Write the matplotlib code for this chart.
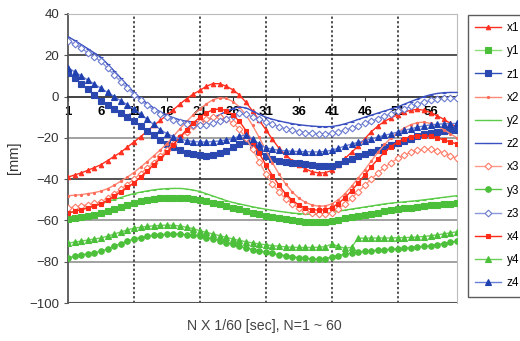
import matplotlib
matplotlib.use("Agg")
import matplotlib.pyplot as plt

plt.rcParams['font.family'] = ['Liberation Sans', 'DejaVu Sans']

# frame numbers N = 1..60
n = list(range(1, 61))

x1 = [-39, -38, -37, -35.7, -34.4, -33, -31, -29, -27, -24.5, -22, -19.5, -16.8, -14, -11.5,
      -9, -6.3, -3.6, -1, 1.2, 3, 5, 6.3, 6.2, 5, 3.3, 0.8, -2.8, -7, -11.5,
      -16, -20.7, -25, -28.3, -31, -33.2, -35, -36.4, -37, -36.9, -35.8, -33.3, -30, -27, -24,
      -20.5, -17, -14.3, -12, -10.3, -8.8, -7.5, -6.6, -6.2, -6.6, -7.8, -9.3, -11, -13, -15]
y1 = [-59.5, -59, -58.4, -57.8, -57.2, -56.5, -55.5, -54.5, -53.4, -52.4, -51.5, -50.8, -50.2, -49.7, -49.3,
      -49.1, -49, -49, -49.2, -49.5, -50, -50.7, -51.4, -52.2, -53, -53.8, -54.6, -55.4, -56.2, -57,
      -57.7, -58.3, -58.9, -59.5, -60, -60.4, -60.7, -60.9, -61, -60.8, -60.2, -59.6, -59, -58.5, -58,
      -57.4, -56.8, -56.2, -55.6, -55, -54.6, -54.2, -53.8, -53.4, -53, -52.7, -52.4, -52.1, -51.8, -51.5]
z1 = [11.5, 9, 6.3, 3.5, 0.8, -2, -4, -6, -8, -10, -12, -14.3, -16.6, -18.8, -21,
      -23, -24.6, -26, -27.2, -28, -28.5, -28.6, -28.2, -27.4, -26.2, -24.6, -22.8, -21.5, -23.5, -26.5,
      -29, -30.2, -31, -31.6, -32, -32.4, -32.8, -33.2, -33.5, -33.6, -33.4, -32.6, -31.4, -30.2, -29,
      -27.9, -26.8, -25.7, -24.6, -23.6, -22.6, -21.5, -20.4, -19.3, -18.3, -17.5, -17, -16.6, -16.3, -16]
x2 = [-48, -47.8, -47.5, -47, -46.5, -45.8, -44.6, -43, -41, -39, -36.8, -34.2, -31.5, -28.7, -25.8,
      -22.8, -19.2, -15.5, -12, -8.8, -6, -3.5, -1.5, -0.6, -0.9, -2.4, -5, -9, -14, -19.8,
      -26, -32, -37.5, -42.3, -46.2, -49.2, -51.2, -52.5, -53.1, -53, -52, -50, -47, -43.5, -39.5,
      -35.5, -31.2, -27, -23.2, -20, -17.3, -15.2, -13.6, -12.6, -12.4, -13, -14.3, -16, -18, -20]
y2 = [-56.5, -55.6, -54.7, -53.8, -52.9, -52, -50.9, -49.9, -48.9, -47.9, -47, -46.3, -45.7, -45.2, -44.8,
      -44.6, -44.5, -44.5, -44.8, -45.3, -46, -47.1, -48.2, -49.3, -50.4, -51.3, -52, -52.7, -53.4, -54,
      -54.6, -55.1, -55.6, -56, -56.4, -56.7, -56.9, -57, -57, -56.8, -56.2, -55.6, -55, -54.5, -54,
      -53.5, -53, -52.5, -52, -51.6, -51.3, -51, -50.7, -50.4, -50, -49.6, -49.2, -48.8, -48.4, -48]
z2 = [29, 27.2, 25.2, 23.2, 21.1, 19, 15.8, 12.4, 9, 5.5, 2, -0.8, -3.3, -5.5, -7.4,
      -9, -10.3, -11.3, -12, -12.3, -12.2, -11.5, -10.3, -8.8, -7.2, -5.8, -5, -5.5, -7, -8.6,
      -10, -11, -11.8, -12.5, -13.1, -13.6, -14, -14.3, -14.5, -14.6, -14.5, -14, -13.2, -12.2, -11.1,
      -10, -9, -8, -7, -6, -5, -3.7, -2.4, -1.2, 0, 0.9, 1.5, 1.9, 2, 2]
x3 = [-54, -53.5, -53, -52.3, -51.7, -51, -49.2, -47.2, -45, -42.6, -40, -37.3, -34.7, -32, -29,
      -26, -22.8, -19.8, -17, -14.3, -12.2, -10.8, -10, -10, -10.8, -12.8, -15.8, -20.3, -25.5, -31.5,
      -37.5, -42.3, -46.2, -49.5, -52, -53.8, -55.2, -56.3, -57, -57, -56.2, -54.5, -52, -49.2, -46.2,
      -43, -40, -37, -34.3, -32, -30, -28.3, -27, -26, -25.5, -25.6, -26.2, -27.3, -28.6, -30]
y3 = [-78, -77.4, -76.8, -76.2, -75.6, -75, -73.8, -72.5, -71.2, -70, -69, -68.3, -67.7, -67.2, -66.9,
      -66.7, -66.6, -66.7, -66.9, -67.2, -67.6, -68.3, -69, -69.8, -70.7, -71.6, -72.5, -73.3, -74.1, -74.8,
      -75.4, -76, -76.6, -77.1, -77.6, -78, -78.4, -78.7, -78.9, -78.5, -77.7, -77, -76.4, -75.8, -75.3,
      -75, -74.7, -74.5, -74.2, -74, -73.7, -73.5, -73.2, -72.9, -72.6, -72.2, -71.7, -71.2, -70.6, -70]
z3 = [27, 25.3, 23.4, 21.3, 19.2, 17, 13.8, 10.5, 7.2, 4, 1, -1.8, -4.3, -6.5, -8.4,
      -10, -11.4, -12.5, -13.3, -13.8, -14, -13.6, -12.9, -12, -10.8, -9.3, -8.2, -8.6, -9.8, -11,
      -12.2, -13.4, -14.6, -15.6, -16.4, -17, -17.5, -17.8, -18, -18, -17.8, -17.2, -16.3, -15.2, -14.1,
      -13, -11.9, -10.7, -9.5, -8.3, -7.2, -6, -4.8, -3.7, -2.7, -1.9, -1.3, -0.9, -0.6, -0.5]
x4 = [-56.5, -55.6, -54.8, -54, -53, -52, -50.2, -48.2, -46, -44, -41.8, -39, -36, -33, -30,
      -27, -23.3, -19.6, -16, -12.8, -10, -7.8, -6.4, -6, -6.8, -8.8, -12, -16.5, -22, -27.5,
      -33, -38.3, -43, -47, -50.2, -52.5, -54, -54.8, -55, -54.8, -53.8, -51.8, -49, -45.6, -42,
      -38, -34, -30.3, -27, -24.2, -22, -20.4, -19.4, -19, -19, -19.3, -20, -21, -22, -23]
y4 = [-71, -70.5, -70, -69.5, -69, -68.5, -67.6, -66.6, -65.6, -64.6, -63.8, -63.3, -62.9, -62.6, -62.4,
      -62.3, -62.4, -62.7, -63.3, -64, -65, -65.8, -66.6, -67.4, -68.2, -69, -69.7, -70.3, -70.9, -71.4,
      -71.8, -72.2, -72.5, -72.8, -73, -73.1, -73.1, -73.1, -73, -72.7, -71.5, -72.5, -73.5, -73, -68.6,
      -68.6, -68.5, -68.5, -68.5, -68.5, -68.4, -68.3, -68.2, -68, -67.8, -67.4, -67, -66.5, -66, -65.5]
z4 = [14, 12, 10, 8, 6, 4, 2, 0, -2, -4, -6, -8.5, -11, -13.5, -16,
      -18, -19.4, -20.5, -21.3, -21.8, -22, -22, -21.8, -21.5, -21, -20.3, -19.3, -18.5, -20.5, -23,
      -24.8, -25.5, -26, -26.3, -26.5, -26.6, -26.7, -26.8, -26.8, -26.6, -26, -25, -24, -23, -22.2,
      -21.4, -20.5, -19.6, -18.8, -18, -17.2, -16.4, -15.6, -14.8, -14.2, -13.7, -13.4, -13.2, -13.1, -13]

series = {'x1': x1, 'y1': y1, 'z1': z1, 'x2': x2, 'y2': y2, 'z2': z2,
          'x3': x3, 'y3': y3, 'z3': z3, 'x4': x4, 'y4': y4, 'z4': z4}

# line colour, marker, marker face, marker edge, marker size
styles = {
    'x1': ('#ff3020', '^', '#ff3020', '#ff3020', 3.2),
    'y1': ('#8ee07a', 's', '#4cbf3a', '#4cbf3a', 3.8),
    'z1': ('#3050b8', 's', '#2a48b0', '#2a48b0', 3.8),
    'x2': ('#ff8a78', '.', '#ff6a58', '#ff6a58', 3),
    'y2': ('#5ccc48', '_', '#5ccc48', '#5ccc48', 3.5),
    'z2': ('#3a50c0', '_', '#3a50c0', '#3a50c0', 3.5),
    'x3': ('#ff9a88', 'D', 'white', '#ff7a66', 3.4),
    'y3': ('#5cc84a', 'o', '#4cc03a', '#4cc03a', 4),
    'z3': ('#8a98dc', 'D', 'white', '#6a7ad0', 3.4),
    'x4': ('#ff2a18', 's', '#ff2a18', '#ff2a18', 2.4),
    'y4': ('#6cd058', '^', '#4cc03a', '#4cc03a', 4.2),
    'z4': ('#6a80d8', '^', '#2040b0', '#2040b0', 4.2),
}

tick_pos = list(range(1, 61, 5))
vgrid = tick_pos[2::2]
hgrid = {20: '#444444', -20: '#9a9a9a', -40: '#444444', -60: '#9a9a9a', -80: '#9a9a9a'}

fig = plt.figure(figsize=(5.2, 3.41), dpi=100)
ax = fig.add_axes([68 / 520, 1 - 303 / 341, 389 / 520, 289 / 341])

for yv, c in hgrid.items():
    ax.axhline(yv, color=c, lw=1.3, zorder=1)
for xv in vgrid:
    ax.axvline(xv, color='#222222', lw=1.1, ls=(0, (1.5, 1.5)), zorder=1)

for name, vals in series.items():
    lc, mk, mfc, mec, ms = styles[name]
    ax.plot(n, vals, color=lc, lw=1.0, marker=mk, markerfacecolor=mfc,
            markeredgecolor=mec, markersize=ms, markeredgewidth=0.8, label=name, zorder=3)

ax.set_xlim(1, 60)
ax.set_ylim(-100, 40)
ax.set_yticks(range(-100, 41, 20))
ax.tick_params(axis='y', length=3, labelsize=9.5, labelcolor='#333333', color='#555555')

# category axis crosses at zero
ax.spines['bottom'].set_position(('data', 0))
ax.spines['bottom'].set_color('#333333')
ax.spines['bottom'].set_linewidth(1.3)
ax.set_xticks(tick_pos)
ax.set_xticklabels([str(t) for t in tick_pos], fontweight='bold', fontsize=9.5)
ax.tick_params(axis='x', length=3, pad=4, color='#333333')
ax.axhline(-100, color='#555555', lw=1.5, zorder=2)
ax.spines['left'].set_color('#555555')
ax.spines['left'].set_linewidth(1.3)
ax.spines['top'].set_color('#bbbbbb')
ax.spines['right'].set_color('#bbbbbb')

fig.text(14 / 520, 1 - 158 / 341, '[mm]', rotation=90, ha='center', va='center',
         fontsize=10.5, color='#333333')
fig.text(264 / 520, 1 - 326 / 341, 'N X 1/60 [sec], N=1 ~ 60', ha='center', va='center',
         fontsize=10.2, color='#444444')

leg = ax.legend(loc='upper left', bbox_to_anchor=(468 / 520, 1 - 15 / 341),
                bbox_transform=fig.transFigure, fontsize=8.5, labelspacing=0.95,
                handlelength=2.2, handletextpad=0.5, borderpad=0.6, borderaxespad=0,
                fancybox=False, frameon=True)
leg.get_frame().set_edgecolor('#333333')
leg.get_frame().set_linewidth(1.0)

fig.savefig('out.png', dpi=100)
